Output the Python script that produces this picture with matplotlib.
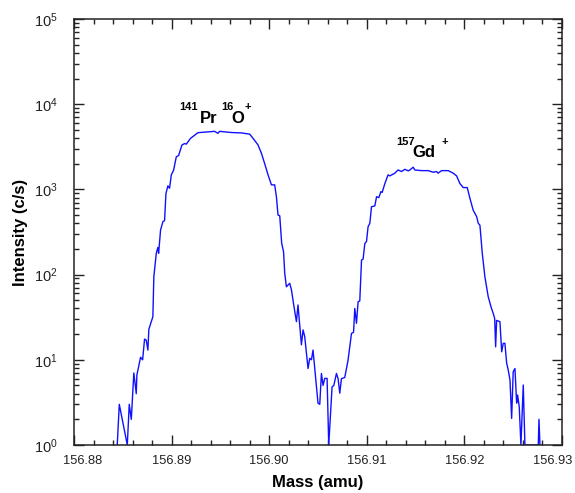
import numpy as np
import matplotlib.pyplot as plt
from matplotlib import font_manager
from matplotlib.ticker import MultipleLocator, LogLocator, FormatStrFormatter, FuncFormatter
from matplotlib.transforms import ScaledTranslation

nomes = {f.name for f in font_manager.fontManager.ttflist}
estreita = 'Liberation Sans Narrow' if 'Liberation Sans Narrow' in nomes else 'Liberation Sans'

plt.rcParams['font.family'] = ['Liberation Sans', 'DejaVu Sans']
plt.rcParams['mathtext.fontset'] = 'custom'
plt.rcParams['mathtext.rm'] = 'Liberation Sans'
plt.rcParams['mathtext.bf'] = 'Liberation Sans:bold'
plt.rcParams['mathtext.it'] = 'Liberation Sans:italic'
plt.rcParams['mathtext.sf'] = estreita

massa = [
    156.88443, 156.88464, 156.88546, 156.88566, 156.88587, 156.88613, 156.88638, 156.88644,
    156.88682, 156.88703, 156.88723, 156.88740, 156.88757, 156.88767, 156.88808, 156.88818,
    156.88843, 156.88859, 156.88867, 156.88887, 156.88911, 156.88928, 156.88942, 156.88962,
    156.88979, 156.88997, 156.89021, 156.89048, 156.89072, 156.89106, 156.89133, 156.89151,
    156.89195, 156.89270, 156.89338, 156.89441, 156.89475, 156.89492, 156.89612, 156.89715,
    156.89800, 156.89834, 156.89885, 156.89920, 156.89954, 156.89988, 156.90023, 156.90056,
    156.90074, 156.90090, 156.90108, 156.90128, 156.90147, 156.90159, 156.90176, 156.90210,
    156.90228, 156.90254, 156.90279, 156.90295, 156.90330, 156.90347, 156.90364, 156.90398,
    156.90415, 156.90433, 156.90449, 156.90467, 156.90500, 156.90518, 156.90535, 156.90552,
    156.90569, 156.90593, 156.90610, 156.90644, 156.90662, 156.90689, 156.90706, 156.90723,
    156.90740, 156.90774, 156.90808, 156.90843, 156.90864, 156.90877, 156.90894, 156.90911,
    156.90928, 156.90946, 156.90962, 156.90980, 156.90997, 156.91013, 156.91031, 156.91048,
    156.91082, 156.91100, 156.91123, 156.91144, 156.91157, 156.91185, 156.91218, 156.91236,
    156.91287, 156.91320, 156.91355, 156.91390, 156.91424, 156.91441, 156.91475, 156.91492,
    156.91561, 156.91629, 156.91680, 156.91715, 156.91731, 156.91766, 156.91834, 156.91885,
    156.91920, 156.91954, 156.91988, 156.92029, 156.92056, 156.92090, 156.92125, 156.92142,
    156.92159, 156.92183, 156.92210, 156.92244, 156.92272, 156.92295, 156.92310, 156.92320,
    156.92330, 156.92364, 156.92382, 156.92398, 156.92415, 156.92433, 156.92449, 156.92467,
    156.92484, 156.92500, 156.92518, 156.92535, 156.92545, 156.92562, 156.92579, 156.92603,
    156.92620, 156.92757, 156.92764, 156.92774,
]
intensidade = [
    1, 3, 1, 3, 2, 7, 4, 6.6,
    10.7, 10, 17.5, 17, 13, 22.8, 32, 94,
    178, 208, 178, 334, 418, 430, 895, 1100,
    1030, 1480, 1690, 2410, 2500, 3320, 3450, 3400,
    3980, 4630, 4700, 4800, 4550, 4800, 4650, 4600,
    4450, 3980, 3330, 2660, 2000, 1480, 1130, 1130,
    820, 500, 490, 232, 186, 104, 72, 79,
    66, 42, 28, 44, 15, 22.4, 18.7, 7.9,
    10.4, 10, 13, 7.9, 3.1, 3, 6.9, 5.0,
    6.05, 6.05, 1, 4.8, 5.0, 6.9, 6, 4.05,
    6, 6.2, 9.9, 20.4, 21, 40, 26.8, 48,
    49, 148, 152, 232, 245, 364, 400, 625,
    640, 820, 800, 940, 920, 1170, 1480, 1440,
    1550, 1690, 1620, 1720, 1650, 1690, 1820, 1690,
    1660, 1660, 1590, 1620, 1550, 1660, 1660, 1550,
    1440, 1170, 1050, 1050, 790, 570, 480, 400,
    380, 178, 94, 55, 42, 35, 30.7, 14.2,
    29, 28, 12.4, 15.6, 15.6, 9.1, 7.6, 5.8,
    2.05, 7.25, 7.9, 3.1, 3.86, 2.8, 1, 5.06,
    1, 1, 2.0, 1,
]

# rótulos dos picos: (massa, intensidade) da linha de base e pedaços (texto, tamanho, dx, dy em pixels)
pico_pos = [(156.89082, 6000), (156.91305, 2370)]
pico_partes = [
    [('141', 8, 0, 13), ('Pr', 12, 20, 0), ('16', 8, 42, 13), ('O', 12, 51.5, 0), ('+', 8, 64.5, 13)],
    [('157', 8, 0, 12), ('Gd', 12, 16.3, 0), ('+', 8, 44.5, 12)],
]

fig = plt.figure(figsize=(5.75, 4.93), dpi=100)
ax = fig.add_axes([0.1287, 0.0974, 0.8487, 0.8641])

ax.plot(massa, intensidade, color='#1010ff', lw=1.0)
ax.set_yscale('log')
ax.set_xlim(156.88, 156.93)
ax.set_ylim(1, 1e5)

ax.xaxis.set_major_locator(MultipleLocator(0.01))
ax.xaxis.set_minor_locator(MultipleLocator(0.002))
ax.xaxis.set_major_formatter(FormatStrFormatter('%.2f'))
ax.yaxis.set_major_locator(LogLocator(base=10, numticks=10))
ax.yaxis.set_minor_locator(LogLocator(base=10, subs=np.arange(2, 10), numticks=10))
ax.yaxis.set_major_formatter(FuncFormatter(lambda v, p: r'$\mathsf{10^{%d}}$' % round(np.log10(v))))

ax.tick_params(which='both', direction='in', top=True, right=True,
               color='#222222', width=1.0, labelcolor='#222222')
ax.tick_params(which='major', length=7)
ax.tick_params(which='minor', length=3.5)
ax.tick_params(axis='x', pad=7, labelsize=9.3)
ax.tick_params(axis='y', pad=12, labelsize=10.5)
for s in ax.spines.values():
    s.set_color('#222222')
    s.set_linewidth(1.1)

ax.set_xlabel('Mass (amu)', fontsize=12, fontweight='bold', labelpad=6)
ax.set_ylabel('Intensity (c/s)', fontsize=12, fontweight='bold')
ax.yaxis.set_label_coords(-0.094, 0.5)

for (xp, yp), partes in zip(pico_pos, pico_partes):
    for txt, tam, dx, dy in partes:
        ax.annotate(txt, (xp, yp), xytext=(dx * 0.72, dy * 0.72), textcoords='offset points',
                    ha='left', va='baseline', fontsize=tam, fontweight='bold')

# desloca o primeiro e o último rótulo do eixo x para dentro da figura
fig.canvas.draw()
for t in ax.xaxis.get_major_ticks():
    loc = t.get_loc()
    if abs(loc - 156.88) < 1e-6:
        t.label1.set_transform(t.label1.get_transform() + ScaledTranslation(6 / 72, 0, fig.dpi_scale_trans))
    if abs(loc - 156.93) < 1e-6:
        t.label1.set_transform(t.label1.get_transform() + ScaledTranslation(-6.5 / 72, 0, fig.dpi_scale_trans))

fig.savefig('out.png', dpi=100)
